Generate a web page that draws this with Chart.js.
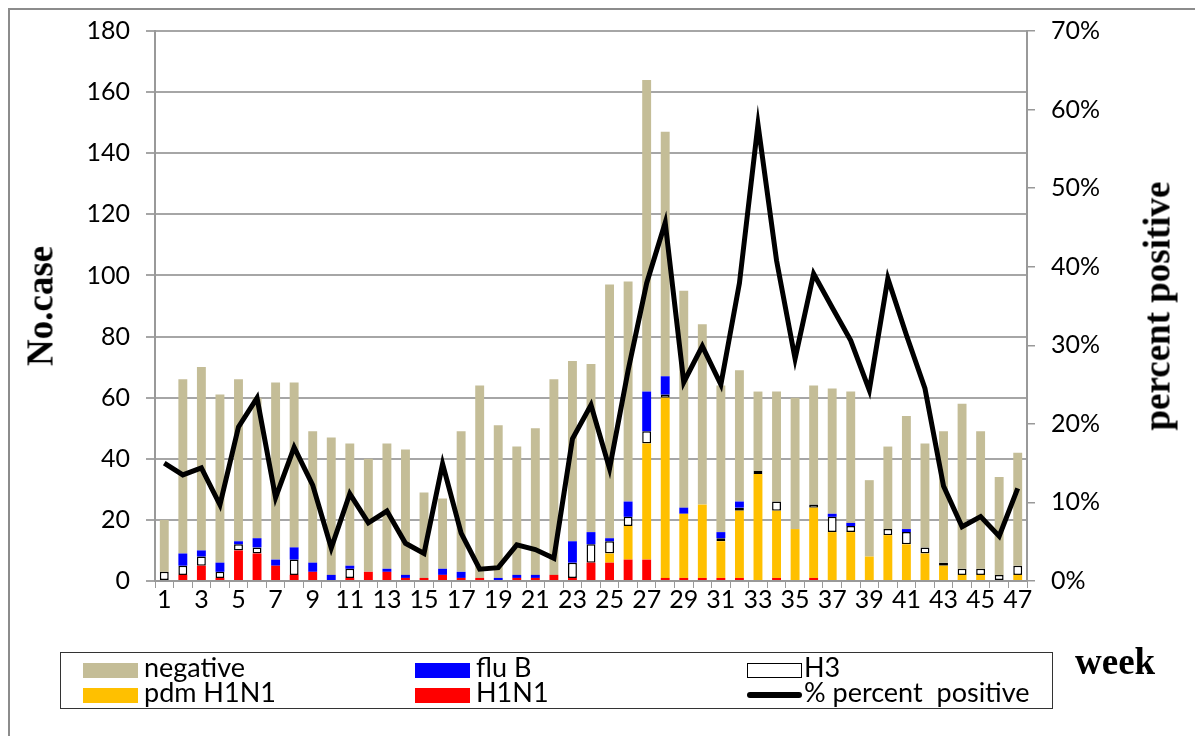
<!DOCTYPE html>
<html>
<head>
<meta charset="utf-8">
<script src="https://cdn.jsdelivr.net/npm/chart.js@4.4.1/dist/chart.umd.min.js"></script>
<style>
    body { margin: 0; background: #fff; }
    #wrap { position: relative; width: 1195px; height: 736px; overflow: hidden; }
    #frame { position: absolute; left: 8px; top: 8px; width: 1200px; height: 740px;
             border-left: 2px solid #8c8c8c; border-top: 2px solid #8c8c8c; }
    canvas { position: absolute; left: 0; top: 0; }
    .title { position: absolute; font-family: "Liberation Serif", serif; font-weight: bold;
             font-size: 37px; color: #000; white-space: nowrap; }
    .rot { transform: translate(-50%, -50%) rotate(-90deg); }
    #legend { position: absolute; left: 60px; top: 652px; width: 991px; height: 55px;
              border: 1px solid #333; background: #fff;
              font-family: Lato, "Liberation Sans", sans-serif; font-size: 27px; color: #000; }
    .item { position: absolute; height: 25px; line-height: 25px; white-space: pre; }
    .sw { display: inline-block; vertical-align: middle; width: 55px; height: 15px; margin-right: 6px;
          box-sizing: border-box; }
</style>
</head>
<body>
<div id="wrap">
    <div id="frame"></div>
    <canvas id="chart" width="1195" height="736"></canvas>
    <div class="title rot" style="left:40px; top:306px;">No.case</div>
    <div class="title rot" style="left:1157px; top:306px;">percent positive</div>
    <div class="title" style="left:1075px; top:640px;">week</div>
    <div id="legend"></div>
</div>
<script>
// weeks 1..47
const weeks = ["1","2","3","4","5","6","7","8","9","10","11","12","13","14","15","16",
    "17","18","19","20","21","22","23","24","25","26","27","28","29","30","31","32",
    "33","34","35","36","37","38","39","40","41","42","43","44","45","46","47"];

// case counts per week
const h1n1     = [0,2,5,1,10,9,5,2,3,0,1,3,3,1,1,2,1,1,0,1,1,2,1,6,6,7,7,1,1,1,1,1,0,1,0,1,0,0,0,0,0,0,0,0,0,0,0];
const pdmH1n1  = [0,0,0,0,0,0,0,0,0,0,0,0,0,0,0,0,0,0,0,0,0,0,0,0,3,11,38,59,21,24,12,22,35,22,17,23,16,16,8,15,12,9,5,2,2,0,2];
const h3       = [3,3,3,2,2,2,0,5,0,0,3,0,0,0,0,0,0,0,0,0,0,0,5,6,4,3,4,1,0,0,1,1,1,3,0,1,5,2,0,2,4,2,1,2,2,2,3];
const fluB     = [0,4,2,3,1,3,2,4,3,2,1,0,1,1,0,2,2,0,1,1,1,0,7,4,1,5,13,6,2,0,2,2,0,0,0,0,1,1,0,0,1,0,0,0,0,0,0];
const negative = [17,57,60,55,53,46,58,54,43,45,40,37,41,41,28,23,46,63,50,42,48,64,59,55,83,72,102,80,71,59,48,43,26,36,43,39,41,43,25,27,37,34,43,54,45,32,37];

// % positive (right axis)
const pctPositive = [15.0,13.5,14.4,9.7,19.6,23.3,10.6,17.0,12.2,4.2,11.1,7.4,8.9,4.8,3.5,14.9,
    6.1,1.5,1.7,4.6,4.0,2.9,18.1,22.4,14.3,26.8,37.9,45.6,25.3,29.9,25.0,37.9,
    58.1,40.8,28.3,39.1,34.8,30.6,24.3,38.5,31.3,24.5,12.1,6.9,8.2,5.7,11.8];

const leftTicks = [0, 20, 40, 60, 80, 100, 120, 140, 160, 180];
const rightTicks = [0, 10, 20, 30, 40, 50, 60, 70];

const tickFont = { family: "Lato, 'Liberation Sans', sans-serif", size: 25 };
const gridGray = '#a6a6a6';

document.addEventListener("DOMContentLoaded", function () {

    const ctx = document.getElementById("chart");

    const barCommon = {
        type: 'bar',
        stack: 'cases',
        yAxisID: 'y',
        order: 1,
        barPercentage: 0.48,
        categoryPercentage: 1.0,
        borderWidth: 0
    };

    new Chart(ctx, {
        data: {
            labels: weeks,
            datasets: [
                { ...barCommon, label: "H1N1", data: h1n1, backgroundColor: '#ff0000' },
                { ...barCommon, label: "pdm H1N1", data: pdmH1n1, backgroundColor: '#ffc000' },
                { ...barCommon, label: "H3", data: h3, backgroundColor: '#ffffff',
                  borderColor: '#000000', borderWidth: 1.5, borderSkipped: false },
                { ...barCommon, label: "flu B", data: fluB, backgroundColor: '#0000ff' },
                { ...barCommon, label: "negative", data: negative, backgroundColor: '#c4bd97' },
                {
                    type: 'line',
                    label: "% percent  positive",
                    data: pctPositive,
                    yAxisID: 'y1',
                    order: 0,
                    borderColor: '#000000',
                    borderWidth: 5,
                    pointRadius: 0,
                    tension: 0,
                    borderJoinStyle: 'miter'
                }
            ]
        },
        options: {
            responsive: false,
            animation: false,
            devicePixelRatio: 1,
            layout: { padding: { top: 30, left: 0, right: 0, bottom: 0 } },
            plugins: {
                legend: { display: false },
                tooltip: { enabled: false }
            },
            scales: {
                x: {
                    stacked: true,
                    grid: { offset: true, drawOnChartArea: false, drawTicks: true, tickLength: 7,
                            color: '#999', lineWidth: 1 },
                    border: { display: true, color: '#999', width: 2 },
                    ticks: {
                        autoSkip: false, maxRotation: 0, minRotation: 0, padding: -3,
                        font: tickFont, color: '#000',
                        callback: function (v, i) { return i % 2 === 0 ? weeks[i] : ''; }
                    },
                    afterFit: function (s) { s.height = 155; }
                },
                y: {
                    stacked: true,
                    position: 'left',
                    min: leftTicks[0],
                    max: leftTicks[leftTicks.length - 1],
                    afterBuildTicks: function (s) { s.ticks = leftTicks.map(v => ({ value: v })); },
                    ticks: { font: tickFont, color: '#000', padding: 16 },
                    grid: { color: gridGray, lineWidth: 2, tickLength: 9 },
                    border: { display: true, color: '#999', width: 2 },
                    afterFit: function (s) { s.width = 155; }
                },
                y1: {
                    position: 'right',
                    min: rightTicks[0],
                    max: rightTicks[rightTicks.length - 1],
                    afterBuildTicks: function (s) { s.ticks = rightTicks.map(v => ({ value: v })); },
                    ticks: { font: tickFont, color: '#000', padding: 16,
                             callback: function (v) { return v + '%'; } },
                    grid: { drawOnChartArea: false, color: '#999', lineWidth: 1.5, tickLength: 8 },
                    border: { display: true, color: '#999', width: 2 },
                    afterFit: function (s) { s.width = 168; }
                }
            }
        }
    });

    // =========================
    // LEGEND (html, two rows)
    // =========================
    const legendItems = [
        { text: "negative", color: '#c4bd97', x: 22, y: 1 },
        { text: "flu B", color: '#0000ff', x: 354, y: 1 },
        { text: "H3", color: '#ffffff', border: true, x: 686, y: 1 },
        { text: "pdm H1N1", color: '#ffc000', x: 22, y: 26 },
        { text: "H1N1", color: '#ff0000', x: 354, y: 26 },
        { text: "% percent  positive", line: true, x: 686, y: 26 }
    ];
    const legend = document.getElementById("legend");
    legendItems.forEach(function (it) {
        const d = document.createElement("div");
        d.className = "item";
        d.style.left = it.x + "px";
        d.style.top = it.y + "px";
        const sw = document.createElement("span");
        sw.className = "sw";
        if (it.line) {
            sw.style.height = "6px";
            sw.style.background = "#000";
            sw.style.borderRadius = "3px";
            sw.style.marginRight = "2px";
        } else {
            sw.style.background = it.color;
            if (it.border) { sw.style.border = "1.5px solid #000"; sw.style.marginRight = "2px"; }
        }
        d.appendChild(sw);
        d.appendChild(document.createTextNode(it.text));
        legend.appendChild(d);
    });

});
</script>
</body>
</html>
